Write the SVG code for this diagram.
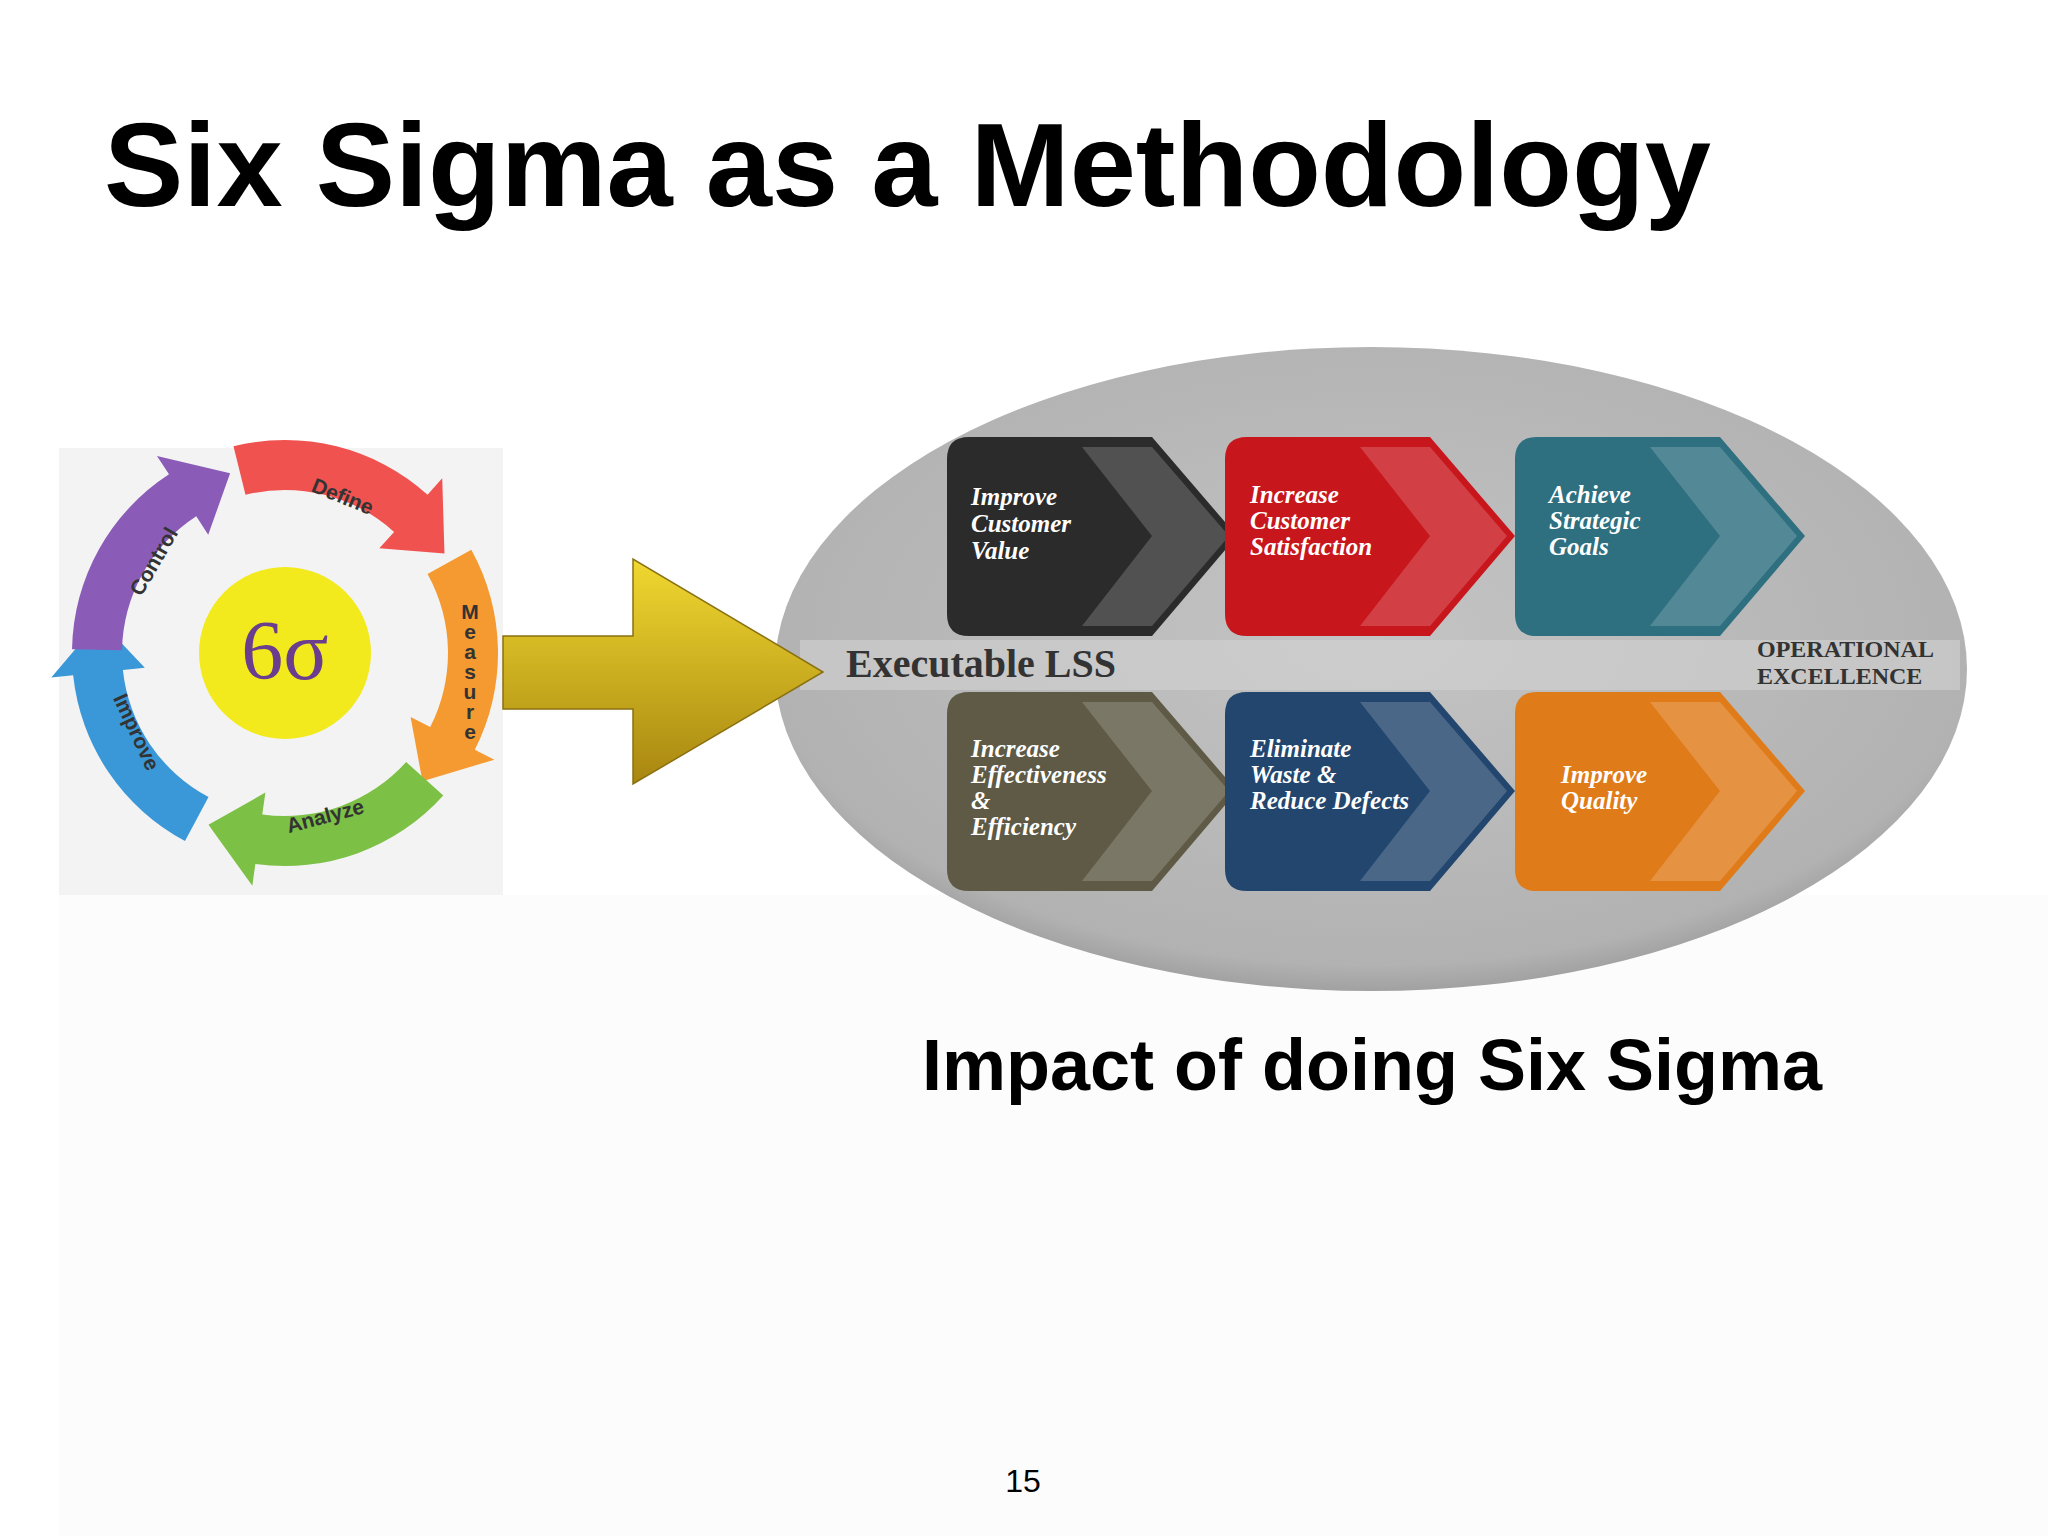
<svg xmlns="http://www.w3.org/2000/svg" width="2048" height="1536" viewBox="0 0 2048 1536">
<style>
.bt{font-family:"Liberation Serif",serif;font-weight:bold;font-style:italic;font-size:25px;fill:#fff}
.cl{font-family:"Liberation Sans",Arial,sans-serif;font-weight:bold;font-size:21px;fill:#333}
</style>
<defs>
<path id="seg" d="M176.6,-119.1 A213,213 0 0 1 197.5,79.8 L217.9,88 L148.1,115.8 L130.7,52.8 L151.1,61.1 A163,163 0 0 0 135.1,-91.2 Z"/>
<path id="chev" d="M22,0 H205 L290,99 L205,199 H22 Q0,199 0,177 V22 Q0,0 22,0 Z"/>
<path id="hl" d="M135,10 H205 L282,99 L205,189 H135 L205,99 Z" fill="#fff" opacity="0.18"/>
<linearGradient id="ya" x1="0" y1="0" x2="0" y2="1"><stop offset="0" stop-color="#f0d830"/><stop offset="1" stop-color="#a88610"/></linearGradient>
<radialGradient id="eg" cx="0.5" cy="0.45" r="0.6"><stop offset="0" stop-color="#c4c4c4"/><stop offset="0.85" stop-color="#b2b2b2"/><stop offset="1" stop-color="#8c8c8c"/></radialGradient>
</defs>
<rect width="2048" height="1536" fill="#fff"/>
<rect x="59" y="895" width="1989" height="641" fill="#fcfcfc"/>
<text x="104" y="206" font-family="'Liberation Sans',Arial,sans-serif" font-weight="bold" font-size="119" fill="#000">Six Sigma as a Methodology</text>
<g id="cycle">
<rect x="59" y="448" width="444" height="447" fill="#f3f3f3"/>
<g transform="translate(285,653)">
<use href="#seg" transform="rotate(-70)" fill="#f0524f"/>
<use href="#seg" transform="rotate(5)" fill="#f59a30"/>
<use href="#seg" transform="rotate(76)" fill="#7cc046"/>
<use href="#seg" transform="rotate(152)" fill="#3a98d8"/>
<use href="#seg" transform="rotate(215)" fill="#8a5cb8"/>
<circle r="86" fill="#f2ea1c"/>
<text y="26" text-anchor="middle" font-family="'Liberation Serif',serif" font-size="84" fill="#6a3d8f">6σ</text>
</g>
<text class="cl" transform="translate(340,503) rotate(22)" text-anchor="middle">Define</text>
<text class="cl" x="470" y="600" font-size="16" style="writing-mode:vertical-rl;text-orientation:upright;letter-spacing:-3px">Measure</text>
<text class="cl" transform="translate(327,823) rotate(-15)" text-anchor="middle">Analyze</text>
<text class="cl" transform="translate(130,735) rotate(65)" text-anchor="middle">Improve</text>
<text class="cl" transform="translate(160,565) rotate(-60)" text-anchor="middle">Control</text>
</g>
<g id="oval">
<ellipse cx="1371" cy="669" rx="596" ry="322" fill="url(#eg)"/>
<rect x="800" y="640" width="1160" height="50" fill="#d2d2d2" opacity="0.6"/>
<text x="846" y="677" font-family="'Liberation Serif',serif" font-weight="bold" font-size="40" fill="#333">Executable LSS</text>
<text font-family="'Liberation Serif',serif" font-weight="bold" font-size="24" fill="#333"><tspan x="1757" y="657">OPERATIONAL</tspan><tspan x="1757" y="684">EXCELLENCE</tspan></text>
</g>
<g id="bigarrow">
<path d="M503,636 H633 V559 L823,672 L633,784 V709 H503 Z" fill="url(#ya)" stroke="#8a7010" stroke-width="1.5"/>
</g>
<g id="b1" transform="translate(947,437)"><use href="#chev" fill="#2b2b2b"/><use href="#hl"/><text class="bt"><tspan x="24" y="68">Improve</tspan><tspan x="24" y="95">Customer</tspan><tspan x="24" y="122">Value</tspan></text></g>
<g id="b2" transform="translate(1225,437)"><use href="#chev" fill="#c8161d"/><use href="#hl"/><text class="bt"><tspan x="25" y="66">Increase</tspan><tspan x="25" y="92">Customer</tspan><tspan x="25" y="118">Satisfaction</tspan></text></g>
<g id="b3" transform="translate(1515,437)"><use href="#chev" fill="#2e6f80"/><use href="#hl"/><text class="bt"><tspan x="34" y="66">Achieve</tspan><tspan x="34" y="92">Strategic</tspan><tspan x="34" y="118">Goals</tspan></text></g>
<g id="b4" transform="translate(947,692)"><use href="#chev" fill="#5e5a45"/><use href="#hl"/><text class="bt"><tspan x="24" y="65">Increase</tspan><tspan x="24" y="91">Effectiveness</tspan><tspan x="24" y="117">&amp;</tspan><tspan x="24" y="143">Efficiency</tspan></text></g>
<g id="b5" transform="translate(1225,692)"><use href="#chev" fill="#23466e"/><use href="#hl"/><text class="bt"><tspan x="25" y="65">Eliminate</tspan><tspan x="25" y="91">Waste &amp;</tspan><tspan x="25" y="117">Reduce Defects</tspan></text></g>
<g id="b6" transform="translate(1515,692)"><use href="#chev" fill="#e07b1a"/><use href="#hl"/><text class="bt"><tspan x="46" y="91">Improve</tspan><tspan x="46" y="117">Quality</tspan></text></g>
<text x="922" y="1090" font-family="'Liberation Sans',Arial,sans-serif" font-weight="bold" font-size="72" fill="#000">Impact of doing Six Sigma</text>
<text x="1023" y="1492" text-anchor="middle" font-family="'Liberation Sans',Arial,sans-serif" font-size="32" fill="#000">15</text>
</svg>
